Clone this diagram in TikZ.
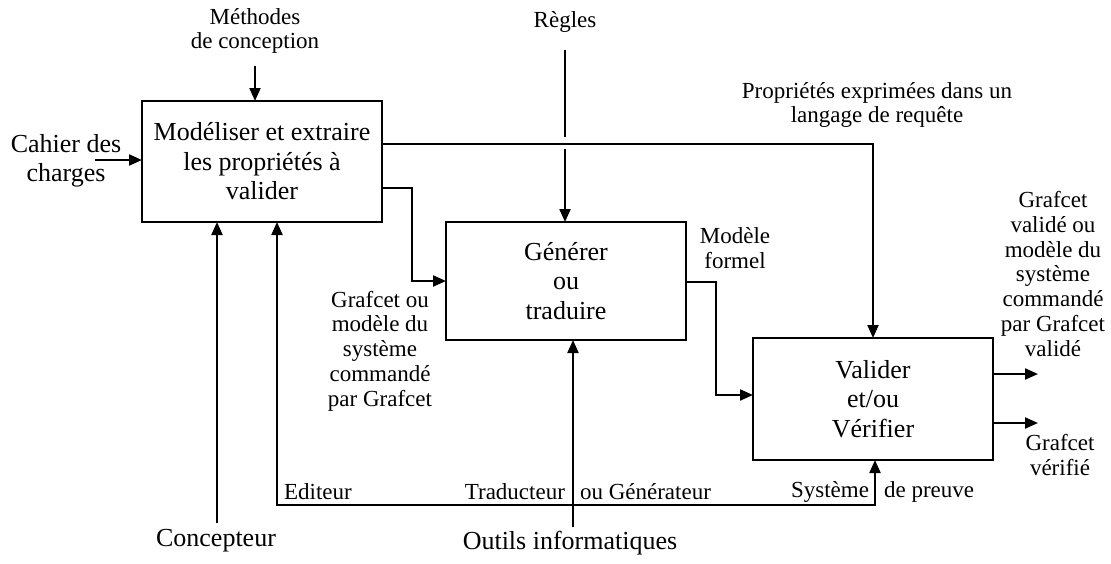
\documentclass[tikz,border=0pt]{standalone}
\usepackage{fontspec}
\setmainfont{Liberation Serif}
\usetikzlibrary{arrows.meta}
\begin{document}
\begin{tikzpicture}[x=1pt,y=-1pt,
  line width=2.1pt,
  big/.style={font=\fontsize{26}{29.5}\selectfont, align=center, inner sep=0pt},
  small/.style={font=\fontsize{23}{24.8}\selectfont, align=center, inner sep=0pt},
  activity/.style={draw, line width=2.1pt, minimum width=240pt, inner sep=0pt, outer sep=0pt,
    font=\fontsize{26}{29.5}\selectfont, align=center},
  arr/.style={-{Triangle[length=13pt,width=11pt]}},
  dblarr/.style={{Triangle[length=13pt,width=11pt]}-{Triangle[length=13pt,width=11pt]}}]
\useasboundingbox (0,0) rectangle (1111,563);

% activity boxes
\node[activity, minimum height=121pt] (m) at (262,161.5) {Modéliser et extraire\\les propriétés à\\valider};
\node[activity, minimum height=118pt] (g) at (566,281) {Générer\\ou\\traduire};
\node[activity, minimum height=122pt] (v) at (873,399) {Valider\\et/ou\\Vérifier};

% labels
\node[small] (meth) at (255,31) {Méthodes\\de conception};
\node[small] (regl) at (565,22) {Règles};
\node[small] (prop) at (877,105) {Propriétés exprimées dans un\\langage de requête};
\node[small] (modf) at (735,248) {Modèle\\formel};
\node[small] (graf) at (380,351) {Grafcet ou\\modèle du\\système\\commandé\\par Grafcet};
\node[small] (gval) at (1053,274) {Grafcet\\validé ou\\modèle du\\système\\commandé\\par Grafcet\\validé};
\node[small] (gver) at (1060,455) {Grafcet\\vérifié};
\node[big] (cah) at (66,161) {Cahier des\\charges};
\node[big] (conc) at (216,541) {Concepteur};
\node[big] (outi) at (570,543) {Outils informatiques};
\node[small, anchor=west] (edit) at (283,492) {Editeur};
\node[small, anchor=east] (trad) at (566,492) {Traducteur};
\node[small, anchor=west] (gene) at (579,492) {ou Générateur};
\node[small, anchor=east] (syst) at (870,492) {Système};
\node[small, anchor=west] (prev) at (883,492) {de preuve};

% free ends of connectors
\coordinate (cin) at (95,160);
\coordinate (mtop) at (255,66);
\coordinate (rtop) at (565,50);
\coordinate (rgapa) at (565,137);
\coordinate (rgapb) at (565,149);
\coordinate (cbot) at (217,523);
\coordinate (ed) at (277,505);
\coordinate (sp) at (875,505);
\coordinate (ot) at (573,527);
\coordinate (ova) at (1038,374);
\coordinate (ovb) at (1038,423);

% inputs and controls
\draw[arr] (cin) -- (cin-|m.west);
\draw[arr] (mtop) -- (mtop|-m.north);
\draw (rtop) -- (rgapa);
\draw[arr] (rgapb) -- (rgapb|-g.north);

% outputs of the first activity
\draw[arr] (m.east|-0,144) -| (v.north);
\draw[arr] (m.east|-0,188) -- (412,188) |- (g.west);

% formal model towards validation
\draw[arr] (g.east|-0,282) -- (716,282) |- (v.west|-0,395);

% results
\draw[arr] (v.east|-ova) -- (ova);
\draw[arr] (v.east|-ovb) -- (ovb);

% mechanisms
\draw[arr] (cbot) -- (cbot|-m.south);
\draw[dblarr] (m.south-|ed) -- (ed) -- (sp) -- (v.south-|sp);
\draw[arr] (ot) -- (ot|-g.south);
\end{tikzpicture}
\end{document}
